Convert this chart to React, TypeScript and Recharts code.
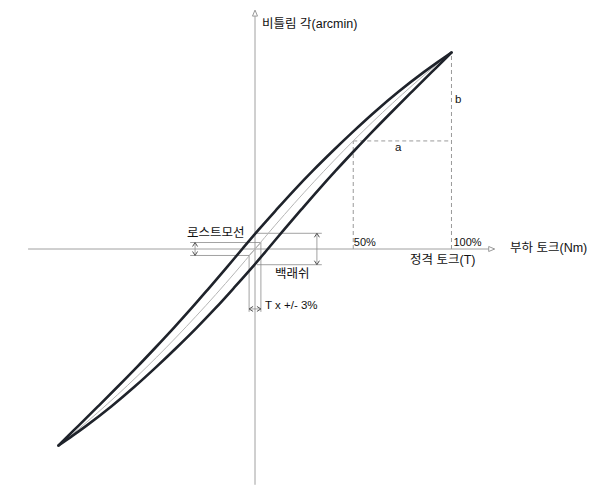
import { LineChart, Line, XAxis, YAxis, ReferenceLine, ReferenceDot } from 'recharts';

// load torque (% of rated) vs twist angle (% of max)
const upperTorque = [-100, -95, -89.9, -79.8, -69.8, -60, -50.5, -41.2, -32.2, -23.5, -14.9, -6.5, 2, 10.9, 20, 29.6, 39.7, 50.2, 61.2, 73, 85.9, 92.8, 100];
const upperAngle = [-100, -95, -90, -80, -70, -60, -50, -40, -30, -20, -10, 0, 10, 20, 30, 40, 50, 60, 70, 80, 90, 95, 100];

const lowerTorque = [-100, -92.8, -85.9, -73, -61.2, -50.2, -39.7, -29.6, -20, -10.9, -2, 6.5, 14.9, 23.5, 32.2, 41.2, 50.5, 60, 69.8, 79.8, 89.9, 95, 100];
const lowerAngle = [-100, -95, -90, -80, -70, -60, -50, -40, -30, -20, -10, 0, 10, 20, 30, 40, 50, 60, 70, 80, 90, 95, 100];

const midTorque = [-100, -90, -80, -70, -60, -50, -40, -30, -20, -10, 0, 10, 20, 30, 40, 50, 60, 70, 80, 90, 100];
const midAngle = [-100, -91.8, -83.2, -74.2, -64.8, -55, -44.8, -34.2, -23.2, -11.8, 0, 11.8, 23.2, 34.2, 44.8, 55, 64.8, 74.2, 83.2, 91.8, 100];

const zip = (xs: number[], ys: number[]) => xs.map((x, i) => ({ x, y: ys[i] }));

const upper = zip(upperTorque, upperAngle);
const lower = zip(lowerTorque, lowerAngle);
const mid = zip(midTorque, midAngle);

const FONT = '"Liberation Sans", Arial, "Noto Sans CJK KR", sans-serif';
const GRID = '#8a8a8a';

// thin annotation segments
const segments = [
  [[0, 8], [34, 8]],
  [[1, -8], [34, -8]],
  [[31.5, 8], [31.5, -8]],
  [[-33, 3.3], [3, 3.3]],
  [[-33, -3.3], [-3, -3.3]],
  [[-30.5, 3.3], [-30.5, -3.3]],
  [[-3, -3.3], [-3, -32]],
  [[3, 3.3], [3, -32]],
  [[-3, -30.5], [3, -30.5]],
  [[-3, -3.3], [3, 3.3]],
];

const dashed = [
  [[50, 0], [50, 55]],
  [[50, 55], [100, 55]],
  [[100, 0], [100, 100]],
];

const arrows: [number, number, string][] = [
  [31.5, 8, 'up'],
  [31.5, -8, 'down'],
  [-30.5, 3.3, 'up'],
  [-30.5, -3.3, 'down'],
  [-3, -30.5, 'left'],
  [3, -30.5, 'right'],
];

const labels: [string, number, number, number][] = [
  ['비틀림 각(arcmin)', 3.6, 112.5, 12.5],
  ['부하 토크(Nm)', 129.8, -1.5, 12.5],
  ['정격 토크(T)', 78.9, -7.6, 12.5],
  ['50%', 50.3, 1.5, 11],
  ['100%', 101, 1.5, 11],
  ['a', 71.2, 49.9, 11.5],
  ['b', 101.8, 74.3, 11.5],
  ['로스트모선', -34.6, 6.1, 12.5],
  ['백래쉬', 10.2, -14.8, 12.5],
  ['T x +/- 3%', 5.1, -30.5, 11.5],
];

const arrowShape = (dir: string) => (p: any) => {
  const { cx, cy } = p;
  const s = 2.5, l = 4;
  let pts = '';
  if (dir === 'up') pts = `${cx - s},${cy + l} ${cx},${cy} ${cx + s},${cy + l}`;
  if (dir === 'down') pts = `${cx - s},${cy - l} ${cx},${cy} ${cx + s},${cy - l}`;
  if (dir === 'left') pts = `${cx + l},${cy - s} ${cx},${cy} ${cx + l},${cy + s}`;
  if (dir === 'right') pts = `${cx - l},${cy - s} ${cx},${cy} ${cx - l},${cy + s}`;
  return <polyline points={pts} fill="none" stroke="#555" strokeWidth={1} />;
};

const headShape = (dir: string) => (p: any) => {
  const { cx, cy } = p;
  const pts = dir === 'up'
    ? `${cx - 2.5},${cy + 6} ${cx},${cy} ${cx + 2.5},${cy + 6}`
    : `${cx - 6},${cy - 2.5} ${cx},${cy} ${cx - 6},${cy + 2.5}`;
  return <polygon points={pts} fill="#fff" stroke="#999" strokeWidth={1} />;
};

const textShape = (txt: string, size: number) => (p: any) => (
  <text x={p.cx} y={p.cy} fontSize={size} fontFamily={FONT} fill="#111">{txt}</text>
);

export default function App() {
  return (
    <div style={{ position: 'absolute', left: 0, top: 0, background: '#fff' }}>
      <LineChart width={600} height={499} margin={{ top: 3.4, right: 99.4, bottom: 4.4, left: 9.4 }}>
        <XAxis type="number" dataKey="x" domain={[-125, 125]} hide allowDataOverflow />
        <YAxis type="number" dataKey="y" domain={[-125, 125]} hide allowDataOverflow />

        <ReferenceLine segment={[{ x: -115.5, y: 0 }, { x: 119, y: 0 }]} stroke="#a0a0a0" strokeWidth={1} ifOverflow="visible" />
        <ReferenceLine segment={[{ x: 0, y: -120 }, { x: 0, y: 118.5 }]} stroke="#a0a0a0" strokeWidth={1} ifOverflow="visible" />
        <ReferenceDot x={122} y={0} shape={headShape('right')} ifOverflow="visible" />
        <ReferenceDot x={0} y={121.6} shape={headShape('up')} ifOverflow="visible" />

        {dashed.map((s, i) => (
          <ReferenceLine key={'d' + i} segment={[{ x: s[0][0], y: s[0][1] }, { x: s[1][0], y: s[1][1] }]}
            stroke="#9a9a9a" strokeWidth={1} strokeDasharray="4 3" />
        ))}
        {segments.map((s, i) => (
          <ReferenceLine key={'s' + i} segment={[{ x: s[0][0], y: s[0][1] }, { x: s[1][0], y: s[1][1] }]}
            stroke={GRID} strokeWidth={0.8} />
        ))}
        {arrows.map((a, i) => (
          <ReferenceDot key={'a' + i} x={a[0]} y={a[1]} shape={arrowShape(a[2])} />
        ))}

        <Line data={mid} dataKey="y" type="monotone" stroke="#b5b5b5" strokeWidth={1} dot={false} activeDot={false} isAnimationActive={false} />
        <Line data={upper} dataKey="y" type="monotone" stroke="#1f232b" strokeWidth={2.6} strokeLinecap="round" dot={false} activeDot={false} isAnimationActive={false} />
        <Line data={lower} dataKey="y" type="monotone" stroke="#1f232b" strokeWidth={2.6} strokeLinecap="round" dot={false} activeDot={false} isAnimationActive={false} />

        {labels.map((l, i) => (
          <ReferenceDot key={'t' + i} x={l[1]} y={l[2]} shape={textShape(l[0], l[3])} ifOverflow="visible" />
        ))}
      </LineChart>
    </div>
  );
}
